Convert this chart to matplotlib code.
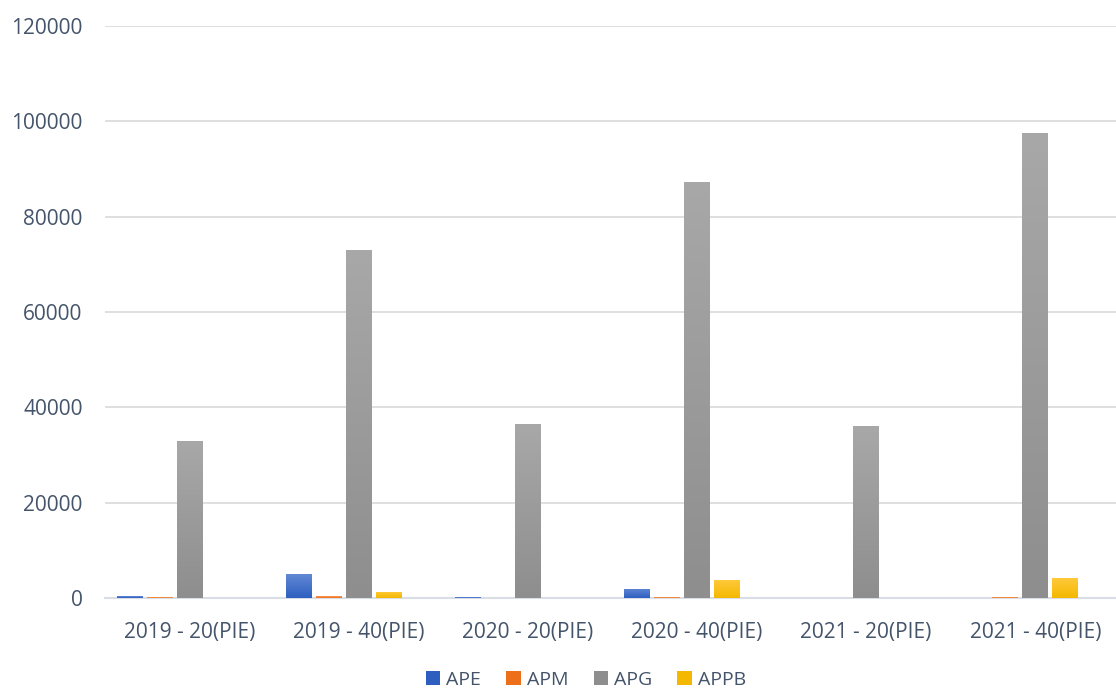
import numpy as np
import matplotlib
matplotlib.use("Agg")
import matplotlib.pyplot as plt
from matplotlib.colors import LinearSegmentedColormap
from matplotlib.patches import Patch

# yearly totals per exam group
categories = ["2019 - 20(PIE)", "2019 - 40(PIE)", "2020 - 20(PIE)",
              "2020 - 40(PIE)", "2021 - 20(PIE)", "2021 - 40(PIE)"]
series_names = ["APE", "APM", "APG", "APPB"]
ape = [400, 5000, 200, 1900, 0, 0]
apm = [200, 400, 0, 200, 0, 200]
apg = [33000, 73000, 36500, 87300, 36100, 97600]
appb = [0, 1300, 0, 3800, 0, 4200]
values = [ape, apm, apg, appb]

# (top colour, bottom colour) for each series
gradients = [("#6188d4", "#2e5fc0"),
             ("#f59a57", "#ee6f1a"),
             ("#a8a8a8", "#8e8e8e"),
             ("#ffca3e", "#f4b800")]

text_col = "#44546a"
plt.rcParams['font.family'] = ['Open Sans', 'DejaVu Sans']

fig = plt.figure(figsize=(11.16, 6.91), dpi=100)
ax = fig.add_axes([0.094, 0.1346, 0.9095, 0.8278])

x = np.arange(len(categories))
width = 0.153
step = 0.177
# cluster laid out for five slots, the fifth one left empty
offsets = (np.arange(len(series_names)) - 2) * step

for vals, (top, bottom), off in zip(values, gradients, offsets):
    bars = ax.bar(x + off, vals, width, color="none", edgecolor="none", zorder=3)
    cmap = LinearSegmentedColormap.from_list("g", [bottom, top])
    grad = np.linspace(0, 1, 256).reshape(-1, 1)
    for b in bars:
        h = b.get_height()
        if h <= 0:
            continue
        x0 = b.get_x()
        im = ax.imshow(grad, cmap=cmap, origin="lower", aspect="auto",
                       extent=(x0, x0 + b.get_width(), 0, h), zorder=3)
        im.set_clip_path(b)

ax.set_xlim(-0.5, len(categories) - 0.5)
ax.set_ylim(0, 120000)
ax.set_yticks(np.arange(0, 120001, 20000))
ax.set_xticks(x)
ax.set_xticklabels(categories)
ax.yaxis.grid(True, color="#d9d9d9", linewidth=1.2, zorder=0)
ax.set_axisbelow(True)
for s in ["top", "right", "left"]:
    ax.spines[s].set_visible(False)
ax.spines["bottom"].set_color("#d9dde6")
ax.spines["bottom"].set_linewidth(1.5)
ax.tick_params(axis="both", length=0, labelsize=15, colors=text_col)
ax.tick_params(axis="x", pad=17)
ax.tick_params(axis="y", pad=16)

handles = [Patch(facecolor=bottom, label=n) for n, (t, bottom) in zip(series_names, gradients)]
leg = fig.legend(handles=handles, loc="center", bbox_to_anchor=(0.525, 0.016),
                 ncol=4, frameon=False, fontsize=14, handlelength=0.75,
                 handleheight=0.75, handletextpad=0.3, columnspacing=1.3,
                 borderpad=0.1)
for t in leg.get_texts():
    t.set_color(text_col)

fig.savefig("out.png", dpi=100)
